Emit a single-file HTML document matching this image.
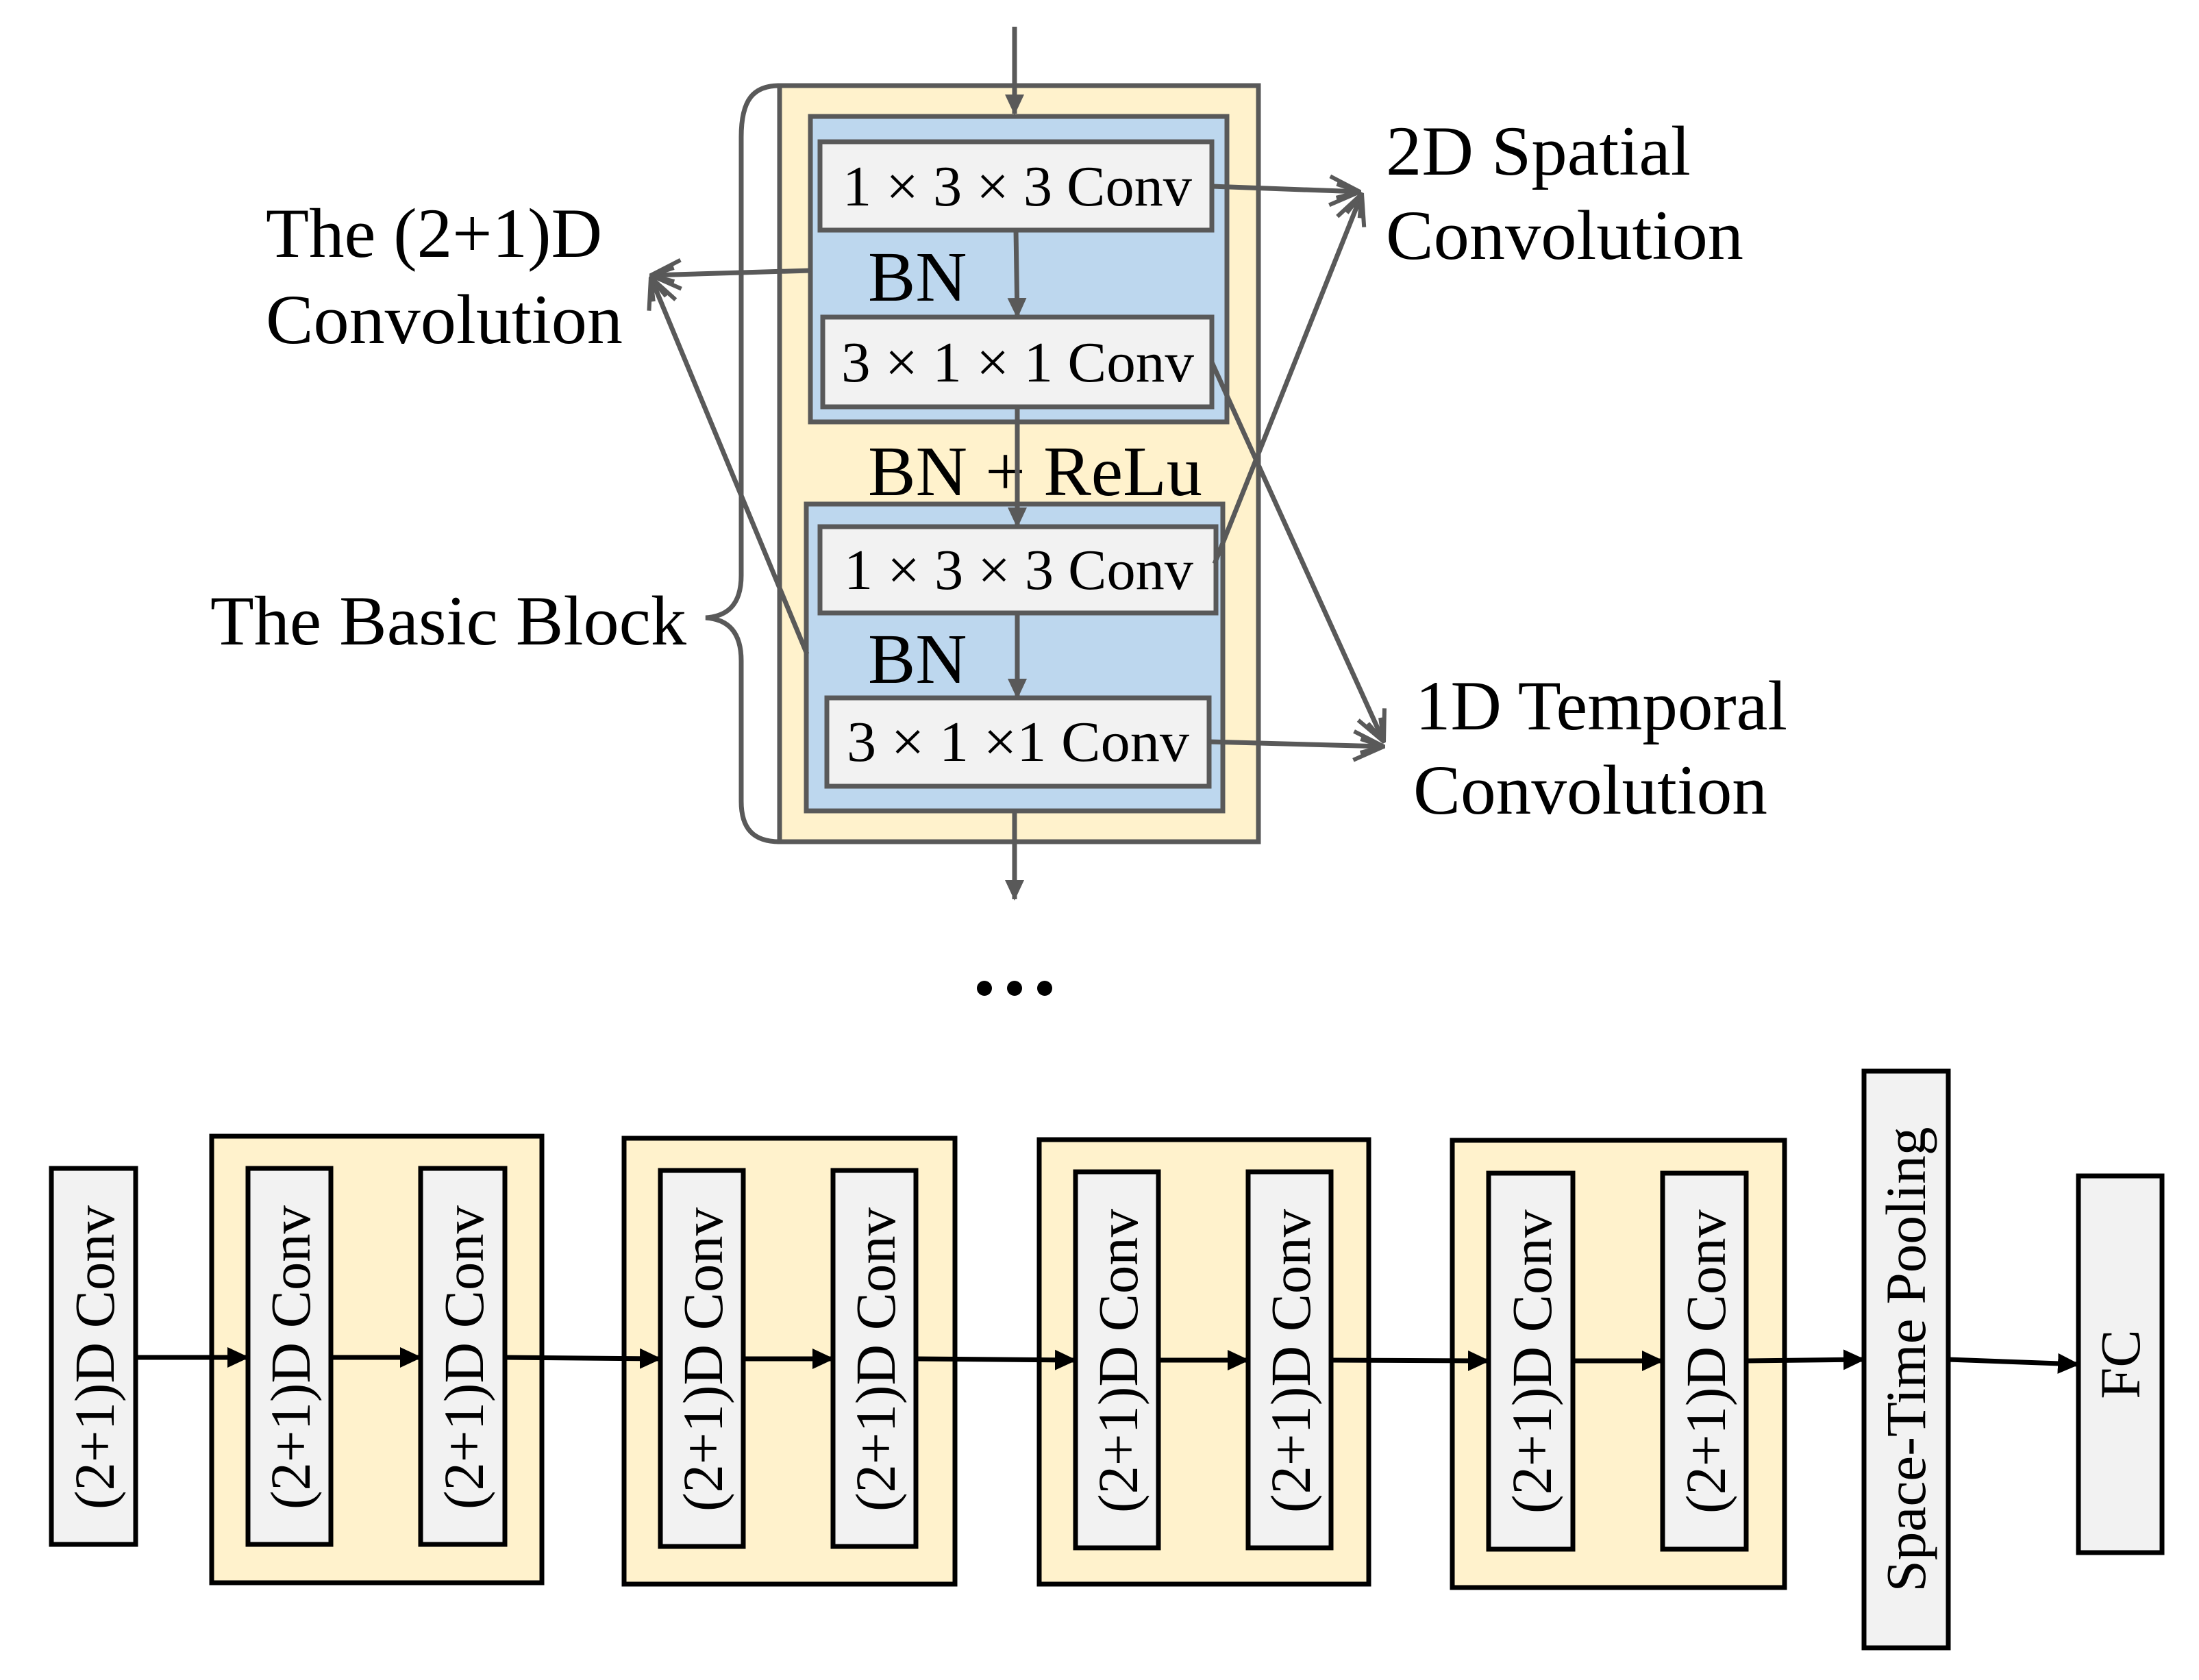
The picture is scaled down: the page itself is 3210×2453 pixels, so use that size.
<!DOCTYPE html>
<html><head><meta charset="utf-8"><style>html,body{margin:0;padding:0;background:#fff}svg{display:block}</style></head><body>
<svg width="3210" height="2453" viewBox="0 0 3210 2453" xmlns="http://www.w3.org/2000/svg" font-family="'Liberation Serif', serif">
<defs>
<marker id="ga" viewBox="0 0 30 30" refX="28" refY="15" markerWidth="30" markerHeight="30" markerUnits="userSpaceOnUse" orient="auto">
<path d="M0,1 L30,15 L0,29 z" fill="#595959"/></marker>
<marker id="oa" viewBox="0 0 54 50" refX="52" refY="25" markerWidth="54" markerHeight="50" markerUnits="userSpaceOnUse" orient="auto">
<path d="M8,4 L52,25 L8,46 M18,15 L52,25 L18,35" fill="none" stroke="#595959" stroke-width="6"/></marker>
<marker id="ba" viewBox="0 0 32 32" refX="30" refY="16" markerWidth="32" markerHeight="32" markerUnits="userSpaceOnUse" orient="auto">
<path d="M0,1 L32,16 L0,31 z" fill="#000"/></marker>
</defs>

<rect x="1138" y="125" width="699" height="1104" fill="#FFF2CC" stroke="#595959" stroke-width="7"/>
<rect x="1183" y="170" width="608" height="446" fill="#BDD7EE" stroke="#595959" stroke-width="7"/>
<rect x="1177" y="736" width="608" height="448" fill="#BDD7EE" stroke="#595959" stroke-width="7"/>
<rect x="1197" y="207" width="572" height="129" fill="#F2F2F2" stroke="#595959" stroke-width="7"/>
<rect x="1201" y="463" width="568" height="131" fill="#F2F2F2" stroke="#595959" stroke-width="7"/>
<rect x="1197" y="769" width="578" height="126" fill="#F2F2F2" stroke="#595959" stroke-width="7"/>
<rect x="1207" y="1019" width="558" height="129" fill="#F2F2F2" stroke="#595959" stroke-width="7"/>

<g font-size="84" fill="#000">
<text x="1230" y="300" textLength="510" lengthAdjust="spacingAndGlyphs">1 × 3 × 3 Conv</text>
<text x="1228" y="557" textLength="515" lengthAdjust="spacingAndGlyphs">3 × 1 × 1 Conv</text>
<text x="1232" y="860" textLength="510" lengthAdjust="spacingAndGlyphs">1 × 3 × 3 Conv</text>
<text x="1236" y="1111" textLength="500" lengthAdjust="spacingAndGlyphs">3 × 1 ×1 Conv</text>
</g>
<g font-size="104" fill="#000">
<text x="1267" y="439">BN</text>
<text x="1267" y="723" textLength="488" lengthAdjust="spacingAndGlyphs">BN + ReLu</text>
<text x="1267" y="997">BN</text>
</g>

<g stroke="#595959" stroke-width="7" fill="none">
<line x1="1481" y1="39" x2="1481" y2="166" marker-end="url(#ga)"/>
<line x1="1483" y1="336" x2="1485" y2="463" marker-end="url(#ga)"/>
<line x1="1485" y1="594" x2="1485" y2="769" marker-end="url(#ga)"/>
<line x1="1485" y1="895" x2="1485" y2="1019" marker-end="url(#ga)"/>
<line x1="1481" y1="1184" x2="1481" y2="1313" marker-end="url(#ga)"/>
<path d="M1138,125 C1100,125 1082,145 1082,200 L1082,840 C1082,885 1060,900 1030,902 C1060,904 1082,920 1082,965 L1082,1170 C1082,1210 1100,1229 1138,1229"/>
<line x1="1183" y1="395" x2="950" y2="402" marker-end="url(#oa)"/>
<line x1="1178" y1="955" x2="950" y2="405" marker-end="url(#oa)"/>
<line x1="1769" y1="272" x2="1985" y2="280" marker-end="url(#oa)"/>
<line x1="1773" y1="823" x2="1988" y2="283" marker-end="url(#oa)"/>
<line x1="1769" y1="529" x2="2020" y2="1083" marker-end="url(#oa)"/>
<line x1="1765" y1="1083" x2="2020" y2="1090" marker-end="url(#oa)"/>
</g>

<g font-size="103" fill="#000">
<text x="388" y="375" textLength="491" lengthAdjust="spacingAndGlyphs">The (2+1)D</text>
<text x="388" y="501" textLength="521" lengthAdjust="spacingAndGlyphs">Convolution</text>
<text x="307" y="941" textLength="695" lengthAdjust="spacingAndGlyphs">The Basic Block</text>
<text x="2023" y="255" textLength="445" lengthAdjust="spacingAndGlyphs">2D Spatial</text>
<text x="2023" y="378" textLength="522" lengthAdjust="spacingAndGlyphs">Convolution</text>
<text x="2066" y="1065" textLength="543" lengthAdjust="spacingAndGlyphs">1D Temporal</text>
<text x="2063" y="1188" textLength="517" lengthAdjust="spacingAndGlyphs">Convolution</text>
</g>

<circle cx="1437" cy="1443" r="11" fill="#000"/>
<circle cx="1481" cy="1443" r="11" fill="#000"/>
<circle cx="1525" cy="1443" r="11" fill="#000"/>

<g stroke="#000" stroke-width="7">
<rect x="309" y="1659" width="482" height="652" fill="#FFF2CC"/>
<rect x="911" y="1662" width="483" height="651" fill="#FFF2CC"/>
<rect x="1517" y="1664" width="481" height="649" fill="#FFF2CC"/>
<rect x="2120" y="1665" width="485" height="653" fill="#FFF2CC"/>
<g fill="#F2F2F2">
<rect x="75" y="1706" width="123" height="549"/>
<rect x="362" y="1706" width="121" height="549"/>
<rect x="614" y="1706" width="123" height="549"/>
<rect x="964" y="1709" width="121" height="549"/>
<rect x="1216" y="1709" width="121" height="549"/>
<rect x="1570" y="1711" width="121" height="549"/>
<rect x="1822" y="1711" width="121" height="549"/>
<rect x="2173" y="1713" width="123" height="549"/>
<rect x="2427" y="1713" width="122" height="549"/>
<rect x="2721" y="1564" width="123" height="842"/>
<rect x="3034" y="1717" width="122" height="550"/>
</g>
<line x1="198" y1="1982" x2="362" y2="1982" marker-end="url(#ba)"/>
<line x1="483" y1="1982" x2="614" y2="1982" marker-end="url(#ba)"/>
<line x1="737" y1="1982" x2="964" y2="1984" marker-end="url(#ba)"/>
<line x1="1085" y1="1984" x2="1216" y2="1984" marker-end="url(#ba)"/>
<line x1="1337" y1="1984" x2="1570" y2="1986" marker-end="url(#ba)"/>
<line x1="1691" y1="1986" x2="1822" y2="1986" marker-end="url(#ba)"/>
<line x1="1943" y1="1986" x2="2173" y2="1987" marker-end="url(#ba)"/>
<line x1="2296" y1="1987" x2="2427" y2="1987" marker-end="url(#ba)"/>
<line x1="2549" y1="1987" x2="2721" y2="1985" marker-end="url(#ba)"/>
<line x1="2844" y1="1985" x2="3034" y2="1992" marker-end="url(#ba)"/>
</g>
<g font-size="83" fill="#000" text-anchor="middle">
<text transform="translate(136,1982) rotate(-90)" y="30" textLength="444" lengthAdjust="spacingAndGlyphs">(2+1)D Conv</text>
<text transform="translate(422,1982) rotate(-90)" y="30" textLength="444" lengthAdjust="spacingAndGlyphs">(2+1)D Conv</text>
<text transform="translate(675,1982) rotate(-90)" y="30" textLength="444" lengthAdjust="spacingAndGlyphs">(2+1)D Conv</text>
<text transform="translate(1024,1985) rotate(-90)" y="30" textLength="444" lengthAdjust="spacingAndGlyphs">(2+1)D Conv</text>
<text transform="translate(1276,1985) rotate(-90)" y="30" textLength="444" lengthAdjust="spacingAndGlyphs">(2+1)D Conv</text>
<text transform="translate(1630,1987) rotate(-90)" y="30" textLength="444" lengthAdjust="spacingAndGlyphs">(2+1)D Conv</text>
<text transform="translate(1882,1987) rotate(-90)" y="30" textLength="444" lengthAdjust="spacingAndGlyphs">(2+1)D Conv</text>
<text transform="translate(2234,1988) rotate(-90)" y="30" textLength="444" lengthAdjust="spacingAndGlyphs">(2+1)D Conv</text>
<text transform="translate(2488,1988) rotate(-90)" y="30" textLength="444" lengthAdjust="spacingAndGlyphs">(2+1)D Conv</text>
<text transform="translate(2782,1985) rotate(-90)" y="28" textLength="679" lengthAdjust="spacingAndGlyphs">Space-Time Pooling</text>
<text transform="translate(3095,1992) rotate(-90)" y="28">FC</text>
</g>
</svg>
</body></html>
